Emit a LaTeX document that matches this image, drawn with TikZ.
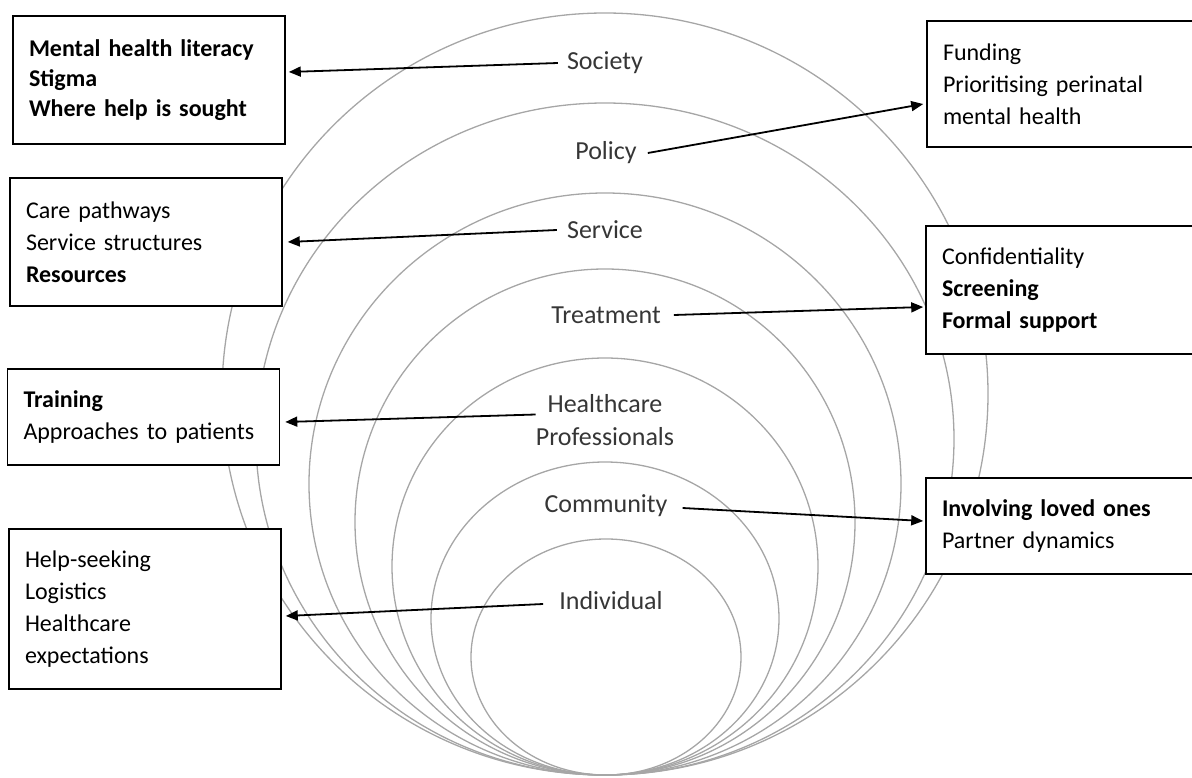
\documentclass[tikz,border=0pt]{standalone}
\usepackage{fontspec}
\setmainfont{Carlito}
\usetikzlibrary{arrows.meta}
\definecolor{ringgray}{HTML}{A6A6A6}
\definecolor{labelgray}{HTML}{363636}
\begin{document}
\begin{tikzpicture}[x=1pt,y=-1pt,
  ring/.style={draw=ringgray, line width=1.3pt},
  infobox/.style={draw=black, line width=1.6pt, fill=white, align=left,
    inner xsep=16pt, inner ysep=0pt, text width=240pt, minimum width=270pt,
    font=\fontsize{24}{32}\selectfont, text=black},
  level/.style={font=\fontsize{26}{33}\selectfont, text=labelgray,
    inner sep=0pt, align=center},
  link/.style={line width=1.8pt, -{Triangle[length=12pt,width=10pt]}}]
\useasboundingbox (0,0) rectangle (1192,778);

% nested levels, all touching at the bottom
\draw[ring] (605,394)   ellipse [x radius=383pt, y radius=381pt];
\draw[ring] (605,439)   ellipse [x radius=349pt, y radius=336pt];
\draw[ring] (605,484)   ellipse [x radius=296pt, y radius=291pt];
\draw[ring] (605,522)   ellipse [x radius=250pt, y radius=253pt];
\draw[ring] (605,566.5) ellipse [x radius=213pt, y radius=208.5pt];
\draw[ring] (605,618.5) ellipse [x radius=174pt, y radius=156.5pt];
\draw[ring] (606,657)   ellipse [x radius=135pt, y radius=118pt];

% factor boxes, left column
\node[infobox, minimum height=128pt, font=\fontsize{24}{30}\selectfont] (b1) at (149,80)
  {\textbf{Mental health literacy}\\\textbf{Stigma}\\\textbf{Where help is sought}};
\node[infobox, minimum height=128pt] (b2) at (146,242)
  {Care pathways\\Service structures\\\textbf{Resources}};
\node[infobox, minimum height=96pt] (b3) at (143.5,417)
  {\textbf{Training}\\Approaches to patients};
\node[infobox, minimum height=160pt] (b4) at (145,609)
  {Help-seeking\\Logistics\\Healthcare\\expectations};

% factor boxes, right column
\node[infobox, minimum height=126pt] (b5) at (1063,84)
  {Funding\\Prioritising perinatal\\mental health};
\node[infobox, minimum height=128pt] (b6) at (1062,290)
  {Confidentiality\\\textbf{Screening}\\\textbf{Formal support}};
\node[infobox, minimum height=96pt] (b7) at (1062,526)
  {\textbf{Involving loved ones}\\Partner dynamics};

% level names
\node[level] (soc) at (605,63)  {Society};
\node[level] (pol) at (606,153) {Policy};
\node[level] (srv) at (605,230) {Service};
\node[level] (trt) at (606,315) {Treatment};
\node[level] (hcp) at (605,420.5) {Healthcare\\Professionals};
\node[level] (com) at (606,506) {Community};
\node[level] (ind) at (611,601) {Individual};

% connectors from levels to their factors
\draw[link] ([xshift=-9pt]soc.west) -- ([xshift=3pt,yshift=8pt]b1.east);
\draw[link] ([xshift=11pt]pol.east) -- ([xshift=-3pt,yshift=-20pt]b5.west);
\draw[link] ([xshift=-10pt]srv.west) -- ([xshift=5pt]b2.east);
\draw[link] ([xshift=13pt]trt.east) -- ([xshift=-2pt,yshift=-17pt]b6.west);
\draw[link] ([yshift=6pt]hcp.west) -- ([xshift=5pt,yshift=-5pt]b3.east);
\draw[link] ([xshift=15pt,yshift=-2pt]com.east) -- ([xshift=-2pt,yshift=5pt]b7.west);
\draw[link] ([xshift=-16pt,yshift=-3pt]ind.west) -- ([xshift=4pt,yshift=-7pt]b4.east);
\end{tikzpicture}
\end{document}
